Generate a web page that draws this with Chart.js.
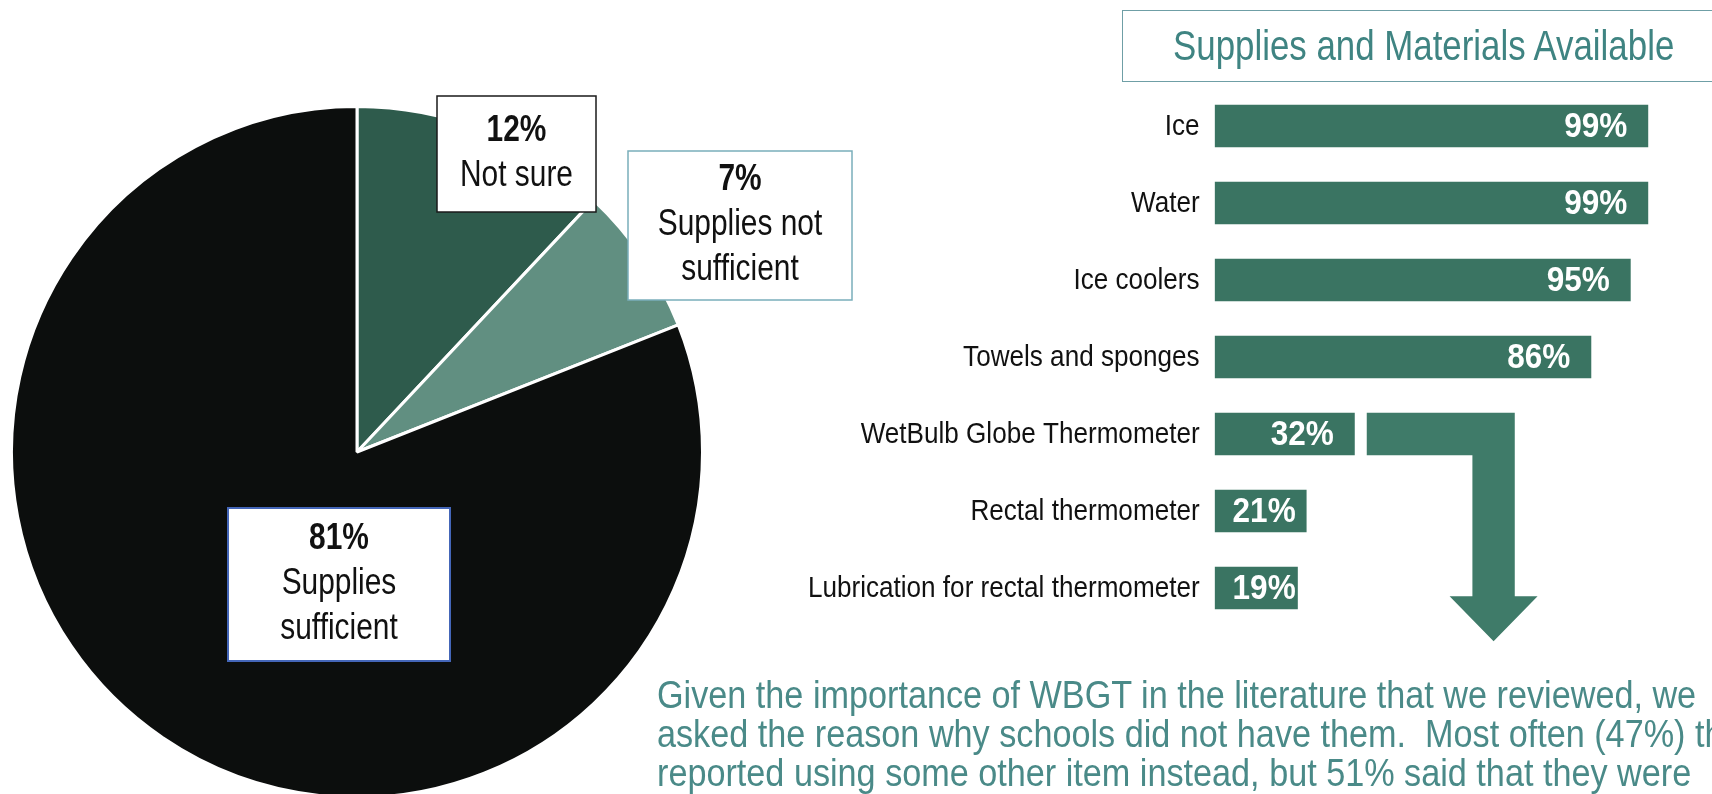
<!DOCTYPE html>
<html>
<head>
<meta charset="utf-8">
<script src="https://cdn.jsdelivr.net/npm/chart.js@4"></script>
<style>
  html, body { margin: 0; padding: 0; background: #fff; }
  body { width: 1712px; height: 794px; overflow: hidden; position: relative; }
  canvas { position: absolute; }
  #pie { left: 0; top: 0; }
  #bars { left: 800px; top: 80px; }
  .title {
    position: absolute; left: 1122px; top: 10px; width: 700px; height: 70px;
    border: 1.5px solid #6f9fa6;
  }
  .title span {
    position: absolute; left: 50px; top: 0;
    font: 42px/70px "Liberation Sans", Arial, sans-serif;
    color: #3f8482; white-space: nowrap;
    transform: scaleX(0.83); transform-origin: 0 0;
  }
  .note {
    position: absolute; left: 600px; top: 676px; width: 1140px;
    font: 38px/39px "Liberation Sans", Arial, sans-serif;
    color: #4a8a88; text-align: center; white-space: nowrap;
    transform: scaleX(0.9); transform-origin: 50% 0;
  }
</style>
</head>
<body>
<canvas id="pie" width="900" height="800"></canvas>
<canvas id="bars" width="912" height="580"></canvas>
<div class="title"><span>Supplies and Materials Available</span></div>
<div class="note">Given the importance of WBGT in the literature that we reviewed, we<br>asked the reason why schools did not have them.&nbsp; Most often (47%) they<br>reported using some other item instead, but 51% said that they were</div>
<script>
const FONT = '"Liberation Sans", Arial, sans-serif';

// pie: are supplies sufficient?
const pieLabels = [["Not sure"], ["Supplies not", "sufficient"], ["Supplies", "sufficient"]];
const pieValues = [12, 7, 81];
const pieColors = ["#2e5b4c", "#618f81", "#0c0e0d"];

// bars: share of schools with each item
const barCategories = [
  "Ice",
  "Water",
  "Ice coolers",
  "Towels and sponges",
  "WetBulb Globe Thermometer",
  "Rectal thermometer",
  "Lubrication for rectal thermometer"
];
const barValues = [99, 99, 95, 86, 32, 21, 19];

// callout boxes next to the pie slices, one per slice
const pieBoxes = [
  { x: 437, y: 96, w: 159, h: 116, stroke: "#1a1a1a", lw: 1.5 },
  { x: 628, y: 151, w: 224, h: 149, stroke: "#7aaebb", lw: 1.5 },
  { x: 228, y: 508, w: 222, h: 153, stroke: "#4466b8", lw: 2 }
];

// the type is a narrow grotesque, so squeeze Liberation Sans sideways
function narrowText(ctx, text, x, y, sx) {
  ctx.save();
  ctx.translate(x, y);
  ctx.scale(sx, 1);
  ctx.fillText(text, 0, 0);
  ctx.restore();
}

const calloutPlugin = {
  id: "callouts",
  afterDraw(chart) {
    const ctx = chart.ctx;
    const ds = chart.data.datasets[0];
    ctx.save();
    pieBoxes.forEach((b, i) => {
      ctx.fillStyle = "#fff";
      ctx.fillRect(b.x, b.y, b.w, b.h);
      ctx.strokeStyle = b.stroke;
      ctx.lineWidth = b.lw;
      ctx.strokeRect(b.x, b.y, b.w, b.h);

      const lines = [ds.data[i] + "%"].concat(chart.data.labels[i]);
      const lh = 45;
      const cx = b.x + b.w / 2;
      let y = b.y + b.h / 2 - (lines.length - 1) * lh / 2;
      ctx.fillStyle = "#111";
      ctx.textAlign = "center";
      ctx.textBaseline = "middle";
      lines.forEach((t, j) => {
        ctx.font = (j === 0 ? "bold " : "") + "36px " + FONT;
        narrowText(ctx, t, cx, y, 0.83);
        y += lh;
      });
    });
    ctx.restore();
  }
};

new Chart(document.getElementById("pie"), {
  type: "pie",
  data: {
    labels: pieLabels,
    datasets: [{
      data: pieValues,
      backgroundColor: pieColors,
      borderColor: "#fff",
      borderWidth: 3
    }]
  },
  options: {
    responsive: false,
    animation: false,
    layout: { padding: { left: 10, top: 105, right: 196, bottom: 1 } },
    plugins: { legend: { display: false }, tooltip: { enabled: false } }
  },
  plugins: [calloutPlugin]
});

// category names left of the bars, placed by the y scale
const categoryLabels = {
  id: "categoryLabels",
  afterDraw(chart) {
    const ctx = chart.ctx;
    const y = chart.scales.y;
    ctx.save();
    ctx.fillStyle = "#111";
    ctx.font = "30px " + FONT;
    ctx.textAlign = "right";
    ctx.textBaseline = "middle";
    chart.data.labels.forEach((label, i) => {
      narrowText(ctx, label, chart.chartArea.left - 15, y.getPixelForTick(i) + 1, 0.87);
    });
    ctx.restore();
  }
};

// white percentages inside the bars, near the end but never past the start
const valueLabels = {
  id: "valueLabels",
  afterDatasetsDraw(chart) {
    const ctx = chart.ctx;
    const meta = chart.getDatasetMeta(0);
    const sx = 0.9;
    ctx.save();
    ctx.fillStyle = "#fff";
    ctx.font = "bold 35px " + FONT;
    ctx.textAlign = "right";
    ctx.textBaseline = "middle";
    meta.data.forEach((bar, i) => {
      const text = barValues[i] + "%";
      const w = ctx.measureText(text).width * sx;
      const x = Math.max(bar.x - 21, bar.base + 18 + w);
      narrowText(ctx, text, x, bar.y + 1, sx);
    });
    ctx.restore();
  }
};

// bent arrow leading from the WBGT bar down to the note
const wbgtArrow = {
  id: "wbgtArrow",
  afterDraw(chart) {
    const bar = chart.getDatasetMeta(0).data[barCategories.indexOf("WetBulb Globe Thermometer")];
    const top = bar.y - bar.height / 2;
    const bottom = bar.y + bar.height / 2;
    const left = bar.x + 12;
    const right = left + 148;
    const shaftLeft = right - bar.height;
    const mid = (shaftLeft + right) / 2;
    const headTop = bottom + 141;
    const ctx = chart.ctx;
    ctx.save();
    ctx.fillStyle = "#3f7b69";
    ctx.beginPath();
    ctx.moveTo(left, top);
    ctx.lineTo(right, top);
    ctx.lineTo(right, headTop);
    ctx.lineTo(mid + 44, headTop);
    ctx.lineTo(mid, headTop + 45);
    ctx.lineTo(mid - 44, headTop);
    ctx.lineTo(shaftLeft, headTop);
    ctx.lineTo(shaftLeft, bottom);
    ctx.lineTo(left, bottom);
    ctx.closePath();
    ctx.fill();
    ctx.restore();
  }
};

new Chart(document.getElementById("bars"), {
  type: "bar",
  data: {
    labels: barCategories,
    datasets: [{
      data: barValues,
      backgroundColor: "#3a7462",
      barPercentage: 0.55,
      categoryPercentage: 1
    }]
  },
  options: {
    indexAxis: "y",
    responsive: false,
    animation: false,
    layout: { padding: { left: 0, top: 7.5, right: 59.4, bottom: 33.5 } },
    scales: {
      x: { min: 0, max: 100, display: false },
      y: {
        grid: { display: false, drawTicks: false },
        border: { display: false },
        ticks: { display: false },
        afterFit(scale) { scale.width = 414.6; }
      }
    },
    plugins: { legend: { display: false }, tooltip: { enabled: false } }
  },
  plugins: [categoryLabels, valueLabels, wbgtArrow]
});
</script>
</body>
</html>
